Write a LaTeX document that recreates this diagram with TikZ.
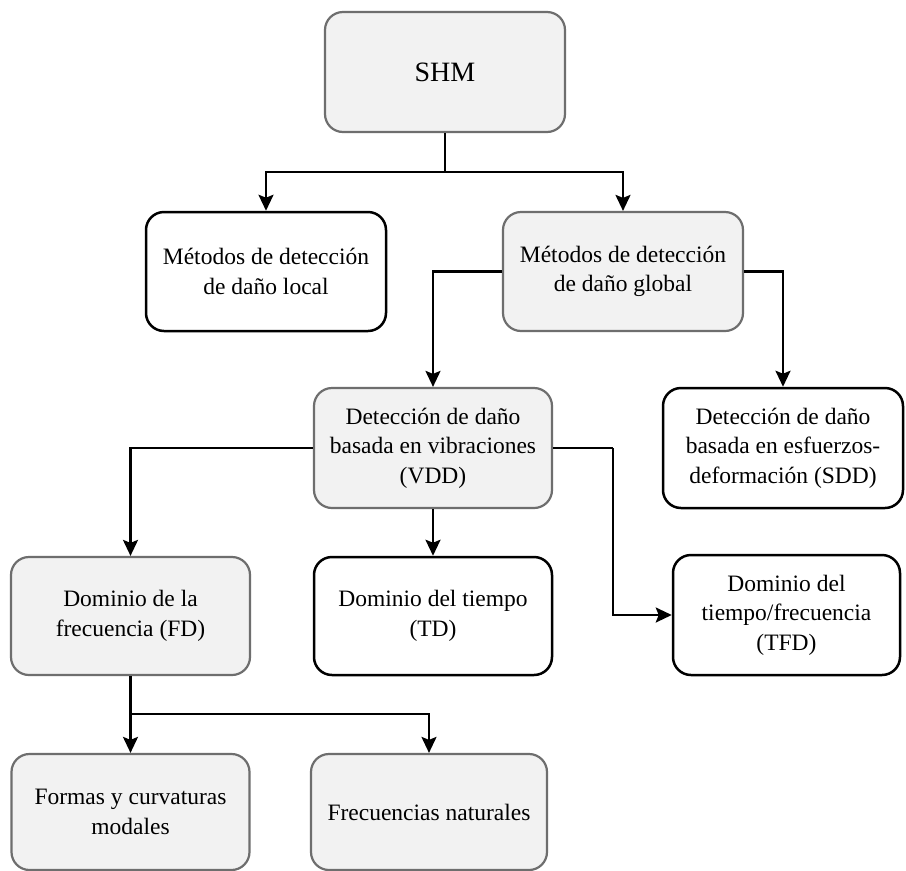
\documentclass[tikz,border=0pt]{standalone}
\usepackage{fontspec}
\setmainfont{Liberation Serif}
\usetikzlibrary{arrows.meta}
\definecolor{boxgray}{HTML}{F2F2F2}
\definecolor{edgegray}{HTML}{6E6E6E}
\begin{document}
\begin{tikzpicture}[x=1pt,y=-1pt,
  base/.style={rounded corners=18pt, align=center, inner sep=2pt,
    font=\fontsize{23.5}{29.5}\selectfont, line width=2.5pt},
  whitebox/.style={base, draw=black, fill=white},
  graybox/.style={base, draw=edgegray, fill=boxgray, line width=2.2pt},
  conn/.style={line width=2.4pt, draw=black},
  arr/.style={conn, -{Stealth[length=16pt,width=15pt,inset=3pt]}}
]
\useasboundingbox (0,0) rectangle (906,871);
\fill[white] (0,0) rectangle (906,871);

\node[graybox, minimum width=240pt, minimum height=120pt, font=\fontsize{28}{34}\selectfont] (shm) at (445,72) {SHM};
\node[whitebox, minimum width=240pt, minimum height=119pt] (local) at (266,271.5) {Métodos de detección\\de daño local};
\node[graybox, minimum width=240pt, minimum height=119pt] (global) at (623,271.5) {Métodos de detección\\de daño global};
\node[graybox, minimum width=238pt, minimum height=120pt] (vdd) at (433,448) {Detección de daño\\basada en vibraciones\\(VDD)};
\node[whitebox, minimum width=240pt, minimum height=120pt] (sdd) at (783,448) {Detección de daño\\basada en esfuerzos-\\deformación (SDD)};
\node[graybox, minimum width=239pt, minimum height=118pt] (fd) at (130.5,616) {Dominio de la\\frecuencia (FD)};
\node[whitebox, minimum width=238pt, minimum height=118pt] (td) at (433,616) {Dominio del tiempo\\(TD)};
\node[whitebox, minimum width=227pt, minimum height=120pt] (tfd) at (786.5,615) {Dominio del\\tiempo/frecuencia\\(TFD)};
\node[graybox, minimum width=238pt, minimum height=116pt] (formas) at (130.5,812) {Formas y curvaturas\\modales};
\node[graybox, minimum width=236pt, minimum height=116pt] (frec) at (429,812) {Frecuencias naturales};

\coordinate (j1) at (445,172);
\coordinate (j2) at (613,448);
\coordinate (j3) at (130.5,714);

\draw[conn] (shm.south) -- (j1);
\draw[arr] (j1) -| (local.north);
\draw[arr] (j1) -| (global.north);
\draw[arr] (global.west) -| (vdd.north);
\draw[arr] (global.east) -| (sdd.north);
\draw[arr] (vdd.west) -| (fd.north);
\draw[arr] (vdd.south) -- (td.north);
\draw[conn] (vdd.east) -- (j2);
\draw[arr] (j2) |- (tfd.west);
\draw[conn] (fd.south) -- (j3);
\draw[arr] (j3) -- (formas.north);
\draw[arr] (j3) -| (frec.north);
\end{tikzpicture}
\end{document}
